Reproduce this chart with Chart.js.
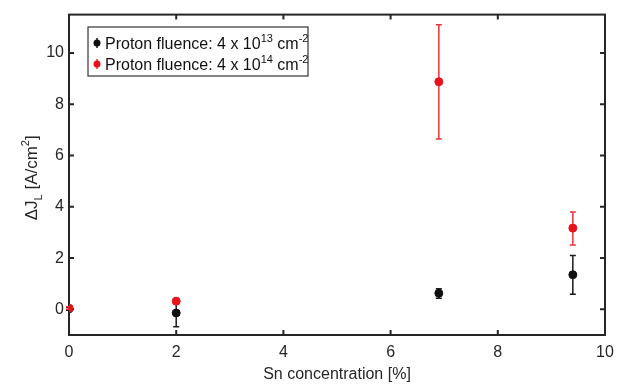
<!DOCTYPE html>
<html>
<head>
<meta charset="utf-8">
<script src="https://cdn.jsdelivr.net/npm/chart.js@4.4.1/dist/chart.umd.min.js"></script>
<style>
  html, body { margin: 0; padding: 0; background: #fff; }
  #wrap { width: 626px; height: 388px; }
</style>
</head>
<body>
<div id="wrap"><canvas id="fluence"></canvas></div>
<script>
// Sn concentration [%]
var snConc = [0, 2, 6.9, 9.4];
// 4 x 10^13 cm^-2
var lowFluence = [0.02, -0.14, 0.63, 1.35];
var lowErrMin = [-0.03, -0.68, 0.43, 0.59];
var lowErrMax = [0.07, 0.4, 0.8, 2.1];
// 4 x 10^14 cm^-2
var highFluence = [0.05, 0.32, 8.88, 3.17];
var highErrMin = [0.0, 0.22, 6.65, 2.51];
var highErrMax = [0.1, 0.42, 11.1, 3.8];

var xTicks = [0, 2, 4, 6, 8, 10];
var yTicks = [0, 2, 4, 6, 8, 10];

var axisColor = "#262626";
var fontFam = "'Liberation Sans', Arial, sans-serif";

function pts(ys) {
  return snConc.map(function (x, i) { return { x: x, y: ys[i] }; });
}

var errBars = [
  { lo: lowErrMin, hi: lowErrMax, color: "#1a1a1a" },
  { lo: highErrMin, hi: highErrMax, color: "#e8343b" }
];

function drawRich(ctx, parts, x, y) {
  // parts: [text, size, shift]
  parts.forEach(function (p) {
    ctx.font = p[1] + "px " + fontFam;
    ctx.fillText(p[0], x, y + p[2]);
    x += ctx.measureText(p[0]).width;
  });
  return x;
}
function richWidth(ctx, parts) {
  var w = 0;
  parts.forEach(function (p) {
    ctx.font = p[1] + "px " + fontFam;
    w += ctx.measureText(p[0]).width;
  });
  return w;
}

var extras = {
  id: "extras",
  beforeDatasetsDraw: function (chart) {
    var ctx = chart.ctx, a = chart.chartArea;
    var xs = chart.scales.x, ys = chart.scales.y;
    ctx.save();
    // box + inward ticks
    ctx.strokeStyle = axisColor;
    ctx.lineWidth = 2;
    ctx.strokeRect(a.left, a.top, a.right - a.left, a.bottom - a.top);
    ctx.beginPath();
    xTicks.forEach(function (v) {
      var px = xs.getPixelForValue(v);
      ctx.moveTo(px, a.bottom); ctx.lineTo(px, a.bottom - 5);
      ctx.moveTo(px, a.top); ctx.lineTo(px, a.top + 5);
    });
    yTicks.forEach(function (v) {
      var py = ys.getPixelForValue(v);
      ctx.moveTo(a.left, py); ctx.lineTo(a.left + 5, py);
      ctx.moveTo(a.right, py); ctx.lineTo(a.right - 5, py);
    });
    ctx.stroke();

    // error bars
    errBars.forEach(function (e) {
      ctx.strokeStyle = e.color;
      ctx.lineWidth = 1.5;
      snConc.forEach(function (x, i) {
        var px = xs.getPixelForValue(x);
        var p1 = ys.getPixelForValue(e.lo[i]);
        var p2 = ys.getPixelForValue(e.hi[i]);
        ctx.beginPath();
        ctx.moveTo(px, p1); ctx.lineTo(px, p2);
        ctx.moveTo(px - 3, p1); ctx.lineTo(px + 3, p1);
        ctx.moveTo(px - 3, p2); ctx.lineTo(px + 3, p2);
        ctx.stroke();
      });
    });
    ctx.restore();
  },
  afterDraw: function (chart) {
    var ctx = chart.ctx, a = chart.chartArea;
    ctx.save();
    // y axis title
    ctx.fillStyle = axisColor;
    ctx.textBaseline = "alphabetic";
    ctx.textAlign = "left";
    var ytitle = [["\u0394J", 17, 0], ["L", 11, 5], [" [A/cm", 17, 0], ["2", 11, -8], ["]", 17, 0]];
    var w = richWidth(ctx, ytitle);
    ctx.save();
    ctx.translate(37, (a.top + a.bottom) / 2 + 3);
    ctx.rotate(-Math.PI / 2);
    drawRich(ctx, ytitle, -w / 2, 0);
    ctx.restore();

    // legend
    ctx.fillStyle = "#fff";
    ctx.fillRect(88, 27, 220, 49);
    ctx.strokeStyle = "#333";
    ctx.lineWidth = 1.2;
    ctx.strokeRect(88, 27, 220, 49);
    var rows = [
      { y: 49, color: "#111", bar: "#1a1a1a", exp: "13" },
      { y: 70, color: "#e8121a", bar: "#e8343b", exp: "14" }
    ];
    rows.forEach(function (r) {
      var my = r.y - 6;
      ctx.strokeStyle = r.bar;
      ctx.lineWidth = 1.5;
      ctx.beginPath();
      ctx.moveTo(97, my - 5); ctx.lineTo(97, my + 5);
      ctx.stroke();
      ctx.fillStyle = r.color;
      ctx.beginPath();
      ctx.arc(97, my, 3.5, 0, Math.PI * 2);
      ctx.fill();
      ctx.fillStyle = "#111";
      drawRich(ctx, [["Proton fluence: 4 x 10", 16, 0], [r.exp, 11, -7], [" cm", 16, 0], ["-2", 11, -7]], 105, r.y);
    });
    ctx.restore();
  }
};

new Chart("fluence", {
  type: "scatter",
  data: {
    datasets: [{
      label: "Proton fluence: 4 x 10^13 cm^-2",
      data: pts(lowFluence),
      backgroundColor: "#111",
      borderColor: "#111",
      pointRadius: 4,
      pointHoverRadius: 4,
      order: 2
    }, {
      label: "Proton fluence: 4 x 10^14 cm^-2",
      data: pts(highFluence),
      backgroundColor: "#e8121a",
      borderColor: "#e8121a",
      pointRadius: 4,
      pointHoverRadius: 4,
      order: 1
    }]
  },
  options: {
    responsive: true,
    maintainAspectRatio: false,
    animation: false,
    devicePixelRatio: 1,
    layout: { padding: { top: 8, right: 21, left: 0, bottom: 0 } },
    plugins: { legend: { display: false }, tooltip: { enabled: false } },
    scales: {
      x: {
        type: "linear",
        min: 0,
        max: 10,
        afterBuildTicks: function (s) { s.ticks = xTicks.map(function (v) { return { value: v }; }); },
        afterFit: function (s) { s.height = 53; },
        grid: { display: false, drawTicks: false },
        border: { display: false },
        ticks: { color: axisColor, font: { size: 16, family: fontFam }, padding: 8, maxRotation: 0 },
        title: { display: true, text: "Sn concentration [%]", color: axisColor, font: { size: 16, family: fontFam }, padding: { top: 2, bottom: 4 } }
      },
      y: {
        type: "linear",
        min: -1,
        max: 11.5,
        afterBuildTicks: function (s) { s.ticks = yTicks.map(function (v) { return { value: v }; }); },
        afterFit: function (s) { s.width = 69; },
        grid: { display: false, drawTicks: false },
        border: { display: false },
        ticks: { color: axisColor, font: { size: 16, family: fontFam }, padding: 5 }
      }
    }
  },
  plugins: [extras]
});
</script>
</body>
</html>
